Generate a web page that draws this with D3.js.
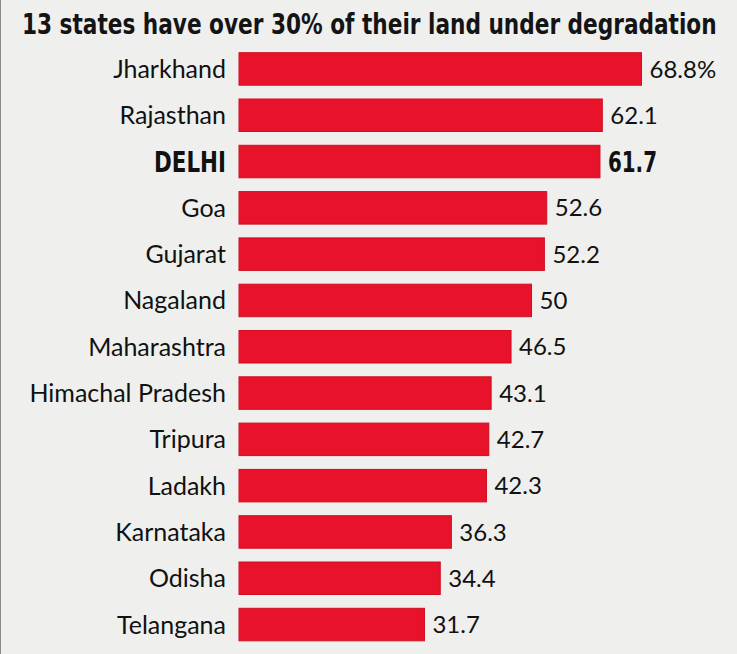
<!DOCTYPE html>
<html><head><meta charset="utf-8">
<script src="https://cdn.jsdelivr.net/npm/d3@7"></script>
<style>
html,body{margin:0;padding:0;background:#efefed;}
svg{display:block;}
</style></head>
<body>
<div id="chart"></div>
<script>
const titleText = "13 states have over 30% of their land under degradation";
const states = ["Jharkhand","Rajasthan","DELHI","Goa","Gujarat","Nagaland","Maharashtra","Himachal Pradesh","Tripura","Ladakh","Karnataka","Odisha","Telangana"];
const values = [68.8,62.1,61.7,52.6,52.2,50,46.5,43.1,42.7,42.3,36.3,34.4,31.7];
const valueLabels = ["68.8%","62.1","61.7","52.6","52.2","50","46.5","43.1","42.7","42.3","36.3","34.4","31.7"];
const highlight = ["DELHI"];

const W = 737, H = 654;
const svg = d3.select("#chart").append("svg").attr("width", W).attr("height", H);
svg.append("rect").attr("width", W).attr("height", H).attr("fill", "#efefed");
svg.append("line").attr("x1",0.5).attr("x2",0.5).attr("y1",0).attr("y2",H).attr("stroke","#8a8a8a").attr("stroke-width",1);

const condensed = "'Liberation Sans Narrow','DejaVu Sans Condensed','Roboto Condensed',sans-serif";
const tg = svg.append("g");
const title = tg.append("text").attr("x", 0).attr("y", 0)
  .attr("font-family", condensed)
  .attr("font-weight", "bold").attr("font-size", 29).attr("fill", "#141414")
  .text(titleText);
const tl = title.node().getComputedTextLength();
tg.attr("transform", `translate(22,34) scale(${695 / tl},1)`);

const x = d3.scaleLinear().domain([0, 68.8]).range([239, 641.5]);
const y = d3.scaleBand().domain(states).range([52.7 - 6.9, 52.7 - 6.9 + 46.3*13]).paddingInner(0.298).paddingOuter(0.149);

svg.append("g").selectAll("rect").data(states).join("rect")
  .attr("x", x(0)).attr("y", d => y(d)).attr("height", y.bandwidth())
  .attr("width", (d,i) => x(values[i]) - x(0))
  .attr("fill", "#e8122b").attr("stroke", "#cf0f22").attr("stroke-width", 1);

const font = "Lato,'Open Sans',sans-serif";
const labels = svg.append("g").selectAll("text").data(states).join("text")
  .attr("x", 226).attr("y", d => y(d) + y.bandwidth()/2).attr("dy", "0.36em")
  .attr("text-anchor", "end").attr("font-family", d => highlight.includes(d) ? condensed : font)
  .attr("font-weight", d => highlight.includes(d) ? "bold" : "normal")
  .attr("font-size", d => highlight.includes(d) ? 28 : 25).attr("fill", "#111")
  .text(d => d);
labels.filter(d => highlight.includes(d)).attr("textLength", 72).attr("lengthAdjust", "spacingAndGlyphs");

const vals = svg.append("g").selectAll("text").data(states).join("text")
  .attr("x", (d,i) => x(values[i]) + 8).attr("y", d => y(d) + y.bandwidth()/2).attr("dy", "0.36em")
  .attr("font-family", d => highlight.includes(d) ? condensed : font)
  .attr("font-weight", d => highlight.includes(d) ? "bold" : "normal")
  .attr("font-size", d => highlight.includes(d) ? 28 : 24).attr("fill", "#111")
  .text((d,i) => valueLabels[i]);
vals.filter(d => highlight.includes(d)).attr("textLength", 49).attr("lengthAdjust", "spacingAndGlyphs");
</script>
</body></html>
